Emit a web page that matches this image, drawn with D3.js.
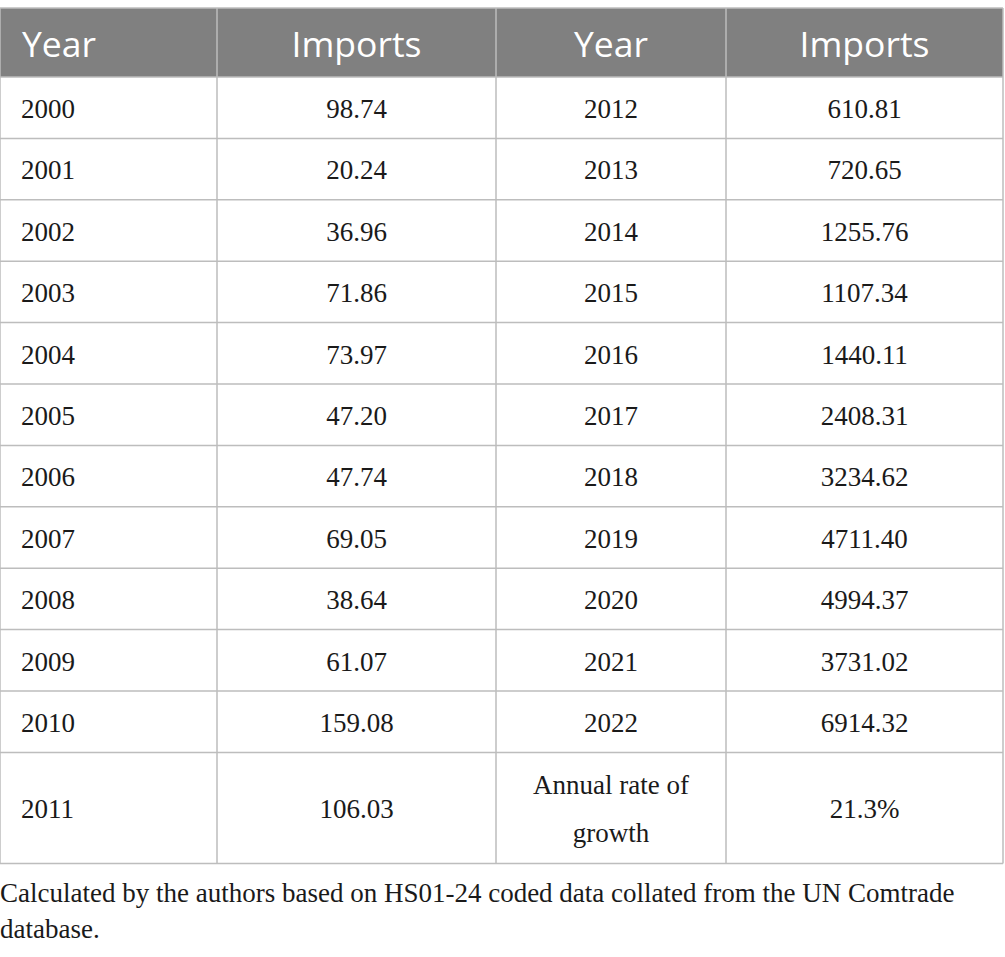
<!DOCTYPE html>
<html>
<head>
<meta charset="utf-8">
<script src="https://cdn.jsdelivr.net/npm/d3@7"></script>
<style>
  body { margin: 0; background: #fff; }
</style>
</head>
<body>
<svg id="table"></svg>
<script>
// table contents
const headers = ["Year", "Imports", "Year", "Imports"];
const yearsLeft = ["2000", "2001", "2002", "2003", "2004", "2005", "2006", "2007", "2008", "2009", "2010", "2011"];
const importsLeft = ["98.74", "20.24", "36.96", "71.86", "73.97", "47.20", "47.74", "69.05", "38.64", "61.07", "159.08", "106.03"];
const yearsRight = ["2012", "2013", "2014", "2015", "2016", "2017", "2018", "2019", "2020", "2021", "2022", "Annual rate of\ngrowth"];
const importsRight = ["610.81", "720.65", "1255.76", "1107.34", "1440.11", "2408.31", "3234.62", "4711.40", "4994.37", "3731.02", "6914.32", "21.3%"];
const footnote = ["Calculated by the authors based on HS01-24 coded data collated from the UN Comtrade", "database."];

const width = 1005, height = 957;
const colEdges = [0, 217, 496, 726, 1003];
const tableTop = 8, headerBottom = 77, rowH = 61.4, lastRowH = 111;
const lineColor = "#bdbdbd";
const serif = "'Liberation Serif', 'Times New Roman', serif";

const svg = d3.select("#table").attr("width", width).attr("height", height);

// rows as table records
const rows = yearsLeft.map((y, i) => [y, importsLeft[i], yearsRight[i], importsRight[i]]);

// row edges
const rowEdges = [headerBottom];
rows.forEach((r, i) => rowEdges.push(rowEdges[i] + (i === rows.length - 1 ? lastRowH : rowH)));

// header background
svg.append("rect")
    .attr("x", colEdges[0]).attr("y", tableTop)
    .attr("width", colEdges[4] - colEdges[0]).attr("height", headerBottom - tableTop)
    .attr("fill", "#808080");

// header text
svg.selectAll(".head")
    .data(headers)
    .join("text")
    .attr("class", "head")
    .attr("x", (d, i) => i === 0 ? colEdges[0] + 22 : (colEdges[i] + colEdges[i + 1]) / 2)
    .attr("y", (tableTop + headerBottom) / 2)
    .attr("dy", "0.4em")
    .attr("text-anchor", (d, i) => i === 0 ? "start" : "middle")
    .attr("font-family", "'Open Sans', sans-serif")
    .attr("font-size", 35.5)
    .attr("fill", "#fff")
    .text(d => d);

// body cells
const cells = [];
rows.forEach((r, ri) => r.forEach((v, ci) => cells.push({ri, ci, v})));

svg.selectAll(".cell")
    .data(cells)
    .join("text")
    .attr("class", "cell")
    .attr("text-anchor", d => d.ci === 0 ? "start" : "middle")
    .attr("font-family", serif)
    .attr("font-size", 27)
    .attr("fill", "#1a1a1a")
    .each(function (d) {
        const x = d.ci === 0 ? colEdges[0] + 21 : (colEdges[d.ci] + colEdges[d.ci + 1]) / 2;
        const cy = (rowEdges[d.ri] + rowEdges[d.ri + 1]) / 2;
        const lines = d.v.split("\n");
        const lh = 48;
        d3.select(this).selectAll("tspan")
            .data(lines)
            .join("tspan")
            .attr("x", x)
            .attr("y", (l, li) => cy + (li - (lines.length - 1) / 2) * lh)
            .attr("dy", "0.38em")
            .text(l => l);
    });

// grid lines
const g = svg.append("g").attr("stroke", lineColor).attr("stroke-width", 1.5);
g.append("line").attr("x1", colEdges[0]).attr("x2", colEdges[4]).attr("y1", tableTop).attr("y2", tableTop);
g.selectAll(".hline")
    .data(rowEdges)
    .join("line")
    .attr("class", "hline")
    .attr("x1", colEdges[0]).attr("x2", colEdges[4])
    .attr("y1", d => d).attr("y2", d => d);
g.selectAll(".vline")
    .data(colEdges)
    .join("line")
    .attr("class", "vline")
    .attr("x1", d => d).attr("x2", d => d)
    .attr("y1", tableTop).attr("y2", rowEdges[rowEdges.length - 1]);

// footnote
const tableBottom = rowEdges[rowEdges.length - 1];
svg.selectAll(".foot")
    .data(footnote)
    .join("text")
    .attr("class", "foot")
    .attr("x", 0)
    .attr("y", (d, i) => tableBottom + 39 + i * 36)
    .attr("font-family", serif)
    .attr("font-size", 27)
    .attr("fill", "#1a1a1a")
    .text(d => d);
</script>
</body>
</html>
